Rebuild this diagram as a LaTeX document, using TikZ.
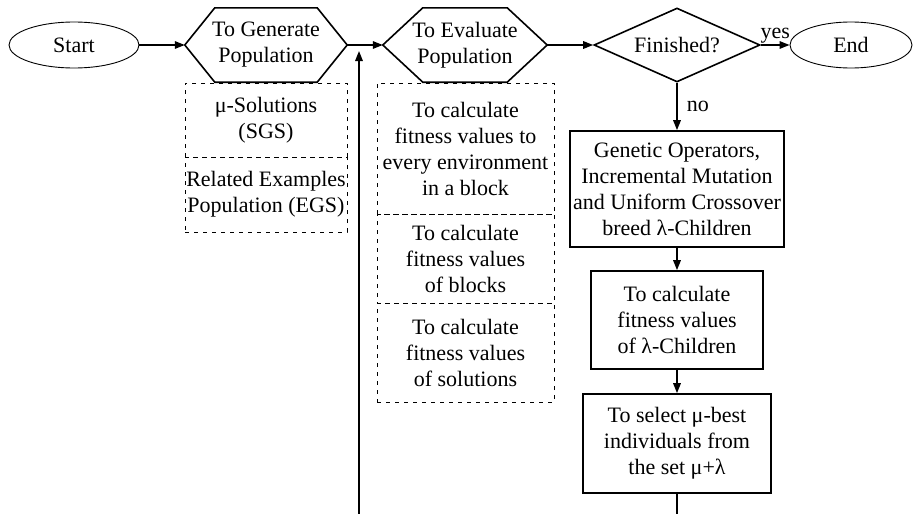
\documentclass[tikz,border=0pt]{standalone}
\usepackage{fontspec}
\setmainfont{Liberation Serif}
\usetikzlibrary{arrows.meta,shapes.geometric}

% Draws a flat-topped hexagon around a (borderless) node #1 with corner inset #2
\newcommand{\drawhex}[2]{%
  \draw[solidline] (#1.west) -- ([xshift=#2]#1.north west) -- ([xshift=-#2]#1.north east)
    -- (#1.east) -- ([xshift=-#2]#1.south east) -- ([xshift=#2]#1.south west) -- cycle;}

\begin{document}
\begin{tikzpicture}[x=1pt,y=-1pt,
  every node/.style={font=\fontsize{22}{26}\selectfont, align=center, inner sep=0pt},
  solidline/.style={line width=1.6pt, line join=miter},
  terminal/.style={ellipse, draw, line width=0.9pt, minimum width=#1, minimum height=46pt},
  hexbox/.style={minimum height=74pt},
  decision/.style={diamond, draw, solidline, aspect=2.25, minimum width=166pt, minimum height=74pt},
  subbox/.style={draw, line width=0.9pt, dash pattern=on 4pt off 5pt},
  process/.style={draw, solidline},
  flow/.style={line width=1.6pt, -{Triangle[length=10pt,width=7.5pt]}},
  label/.style={font=\fontsize{22}{26}\selectfont}
]
\useasboundingbox (0,0) rectangle (914,514);

% main row
\node[terminal=130pt] (start) at (74,45) {Start};
\node[hexbox, minimum width=162pt] (gen) at (266,45) {To Generate\\Population};
\drawhex{gen}{30pt}
\node[hexbox, minimum width=164pt] (eval) at (465,45) {To Evaluate\\Population};
\drawhex{eval}{40pt}
\node[decision] (fin) at (677,45) {Finished?};
\node[terminal=122pt] (end) at (851,45) {End};

% sub-steps of population generation
\node[subbox, minimum width=162pt, minimum height=74pt] (sgs) at (266,120) {μ-Solutions\\(SGS)};
\node[subbox, minimum width=162pt, minimum height=75pt] (egs) at (266,194.5) {Related Examples\\Population (EGS)};

% sub-steps of population evaluation
\node[subbox, minimum width=177pt, minimum height=131pt] (envfit) at (465.5,148.5)
  {To calculate\\fitness values to\\every environment\\in a block};
\node[subbox, minimum width=177pt, minimum height=89pt] (blockfit) at (465.5,258.5)
  {To calculate\\fitness values\\of blocks};
\node[subbox, minimum width=177pt, minimum height=99pt] (solfit) at (465.5,352.5)
  {To calculate\\fitness values\\of solutions};

% breeding column
\node[process, minimum width=214pt, minimum height=116pt] (genetic) at (677,189)
  {Genetic Operators,\\Incremental Mutation\\and Uniform Crossover\\breed λ-Children};
\node[process, minimum width=172pt, minimum height=98pt] (calc) at (677,320)
  {To calculate\\fitness values\\of λ-Children};
\node[process, minimum width=188pt, minimum height=99pt] (select) at (677,443.5)
  {To select μ-best\\individuals from\\the set μ+λ};

% loop ends
\coordinate (loopout) at (677,514);
\coordinate (loopin) at (359,514);
\coordinate (loopend) at (359,51);

% connectors
\draw[flow] (start.east) -- (gen.west);
\draw[flow] (gen.east) -- (eval.west);
\draw[flow] (eval.east) -- (fin.west);
\draw[flow] (fin.east) -- node[label, above=1pt] {yes} (end.west);
\draw[flow] (fin.south) -- node[label, right=9pt] {no} (genetic.north);
\draw[flow] (genetic.south) -- (calc.north);
\draw[flow] (calc.south) -- (select.north);
\draw[solidline] (select.south) -- (loopout);
\draw[flow] (loopin) -- (loopend);
\end{tikzpicture}
\end{document}
